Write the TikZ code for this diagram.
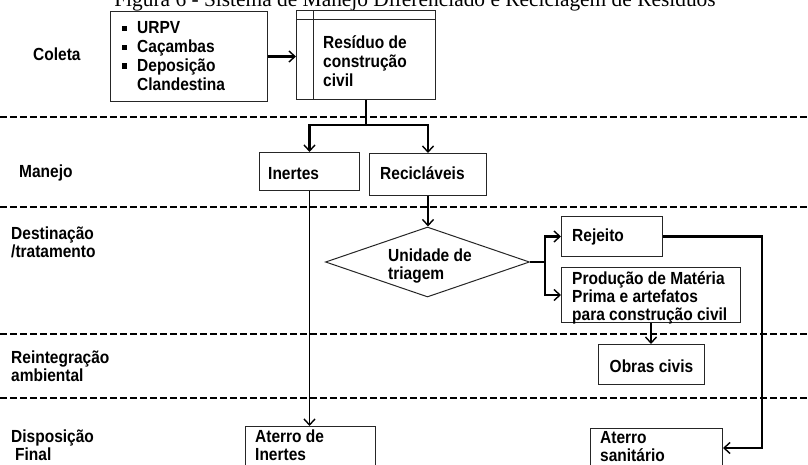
\documentclass[tikz,border=0pt]{standalone}
\usepackage{graphicx}
\usepackage{fontspec}
\setsansfont{Liberation Sans}
\newfontfamily\titlefont{Liberation Serif}
\usetikzlibrary{arrows.meta,shapes.geometric}

% bold sans text, slightly condensed look (taller than wide); first line sits on the anchor
\newcommand\txt[2][16.8]{\scalebox{1}[1.13]{\fontsize{15.5}{#1}\selectfont\sffamily\bfseries
  \begin{tabular}[t]{@{}l@{}}#2\end{tabular}}}
\newcommand\sqbul{\rule[3pt]{4.5pt}{4.5pt}}

\tikzset{
  box/.style={draw=black!85, line width=1pt, anchor=north west, inner sep=0pt},
  lbl/.style={inner sep=0pt, anchor=base west},
  sep/.style={line width=1.6pt, dash pattern=on 7pt off 3pt},
  flow/.style={line width=2.2pt},
  slim/.style={line width=1.5pt},
  tip/.style={-{Straight Barb[length=6pt,width=11pt,line width=1.4pt]}},
}

\begin{document}
\begin{tikzpicture}[x=1pt, y=-1pt]
\useasboundingbox (0,0) rectangle (808,465);
\fill[white] (0,0) rectangle (808,465);
\clip (0,0) rectangle (808,465);

% caption, cut by the top edge
\node[font={\titlefont\fontsize{21.4}{25}\selectfont}, anchor=base, inner sep=0pt] (cap) at (415,7)
  {Figura 6 - Sistema de Manejo Diferenciado e Reciclagem de Resíduos};

% stage separators
\foreach \yy in {117,207,334,398}
  \draw[sep] (0,\yy) -- (808,\yy);

% stage names
\node[lbl] (tColeta) at (33,61) {\txt{Coleta}};
\node[lbl] (tManejo) at (19,178) {\txt{Manejo}};
\node[lbl] (tDest) at (11,239) {\txt{Destinação\\/tratamento}};
\node[lbl] (tReint) at (11,363) {\txt{Reintegração\\ambiental}};
\node[lbl] (tDisp) at (11,442) {\txt{Disposição\\\hspace{4pt}Final}};

% boxes
\node[box, minimum width=157pt, minimum height=90pt] (src) at (110,11) {};
\node[box, minimum width=139pt, minimum height=89pt] (rcc) at (296,10) {};
\draw[black!85, line width=1pt] ([xshift=17pt]rcc.north west) -- ([xshift=17pt]rcc.south west);
\draw[black!85, line width=1pt] ([yshift=-10pt]rcc.north west) -- ([yshift=-10pt]rcc.north east);
\node[box, minimum width=100pt, minimum height=38pt] (ine) at (259,152) {};
\node[box, minimum width=117pt, minimum height=42pt] (rec) at (369,153) {};
\node[draw=black!85, line width=1pt, diamond, inner sep=0pt,
      minimum width=204pt, minimum height=70pt] (tri) at (427.5,262) {};
\node[box, minimum width=101pt, minimum height=40pt] (rej) at (561,216) {};
\node[box, minimum width=179pt, minimum height=55pt] (prod) at (561,267) {};
\node[box, minimum width=106pt, minimum height=40pt] (obr) at (598,344) {};
\node[box, minimum width=130pt, minimum height=45pt] (atI) at (245,426) {};
\node[box, minimum width=132pt, minimum height=46pt] (atS) at (590,428) {};

% box texts
\node[lbl] (srcT) at (122,34) {\txt{\makebox[15pt][l]{\sqbul}URPV\\
  \makebox[15pt][l]{\sqbul}Caçambas\\
  \makebox[15pt][l]{\sqbul}Deposição\\
  \hspace{15pt}Clandestina}};
\node[lbl] (rccT) at (323,49) {\txt{Resíduo de\\construção\\civil}};
\node[lbl] (ineT) at (268,179) {\txt{Inertes}};
\node[lbl] (recT) at (380,180) {\txt{Recicláveis}};
\node[lbl] (triT) at (388,261) {\txt{Unidade de\\triagem}};
\node[lbl] (rejT) at (572,241) {\txt{Rejeito}};
\node[lbl] (prodT) at (572,284)
  {\txt[15.9]{Produção de Matéria\\Prima e artefatos\\para construção civil}};
\node[lbl, anchor=base] (obrT) at (obr.center |- 0,372) {\txt{Obras civis}};
\node[lbl] (atIT) at (255,442) {\txt{Aterro de\\Inertes}};
\node[lbl] (atST) at (600,443) {\txt{Aterro\\sanitário}};

% connectors
\coordinate (split) at (rcc.south |- 0,125);
\coordinate (fork) at (545,262);
\coordinate (drop) at (762,448);

\draw[flow, tip] (src.east) -- (src.east -| rcc.west);
\draw[flow] (rcc.south) -- (split);
\draw[flow, tip] (split) -| (ine.north);
\draw[flow, tip] (split) -| (rec.north);
\draw[slim, tip] (ine.south) -- (ine.south |- atI.north);
\draw[slim, tip] (rec.south) -- (rec.south |- tri.north);
\draw[flow] (tri.east) -- (fork);
\draw[flow, tip] (fork) |- (rej.west);
\draw[flow, tip] (fork) |- (prod.west);
\draw[slim, tip] (prod.south) -- (prod.south |- obr.north);
\draw[flow, tip] (rej.east) -| (drop) -- (drop -| atS.east);
\end{tikzpicture}
\end{document}
